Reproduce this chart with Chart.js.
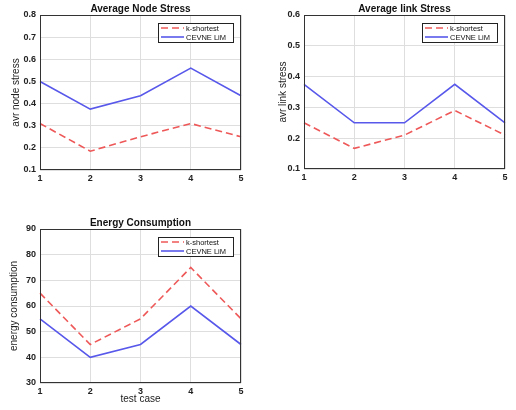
<!DOCTYPE html>
<html>
<head>
<meta charset="utf-8">
<script src="https://cdn.jsdelivr.net/npm/chart.js@4"></script>
<style>
  body { margin: 0; background: #fff; width: 516px; height: 410px; overflow: hidden; position: relative; }
  .box { position: absolute; }
</style>
</head>
<body>
<div class="box" style="left:0px;top:0px;width:250px;height:190px"><canvas id="c1"></canvas></div>
<div class="box" style="left:264px;top:0px;width:250px;height:190px"><canvas id="c2"></canvas></div>
<div class="box" style="left:0px;top:214px;width:250px;height:196px"><canvas id="c3"></canvas></div>
<script>
let testCases = ['1', '2', '3', '4', '5'];

let nodeKShortest = [0.31, 0.185, 0.25, 0.31, 0.25];
let nodeCevne = [0.5, 0.375, 0.435, 0.56, 0.435];

let linkKShortest = [0.25, 0.167, 0.21, 0.29, 0.21];
let linkCevne = [0.375, 0.25, 0.25, 0.375, 0.25];

let energyKShortest = [65, 45, 55, 75, 55];
let energyCevne = [55, 40, 45, 60, 45];

const RED = 'rgb(238,88,88)';
const BLUE = 'rgb(88,88,235)';
const FONT = 'Liberation Sans, Arial, sans-serif';

// matlab-ish frame: box, title above plot, legend inside top right
const frame = {
    id: 'frame',
    afterDraw(chart, args, opts) {
        const c = chart.ctx;
        const a = chart.chartArea;
        c.save();
        c.strokeStyle = '#333';
        c.lineWidth = 1;
        c.strokeRect(Math.round(a.left) + 0.5, Math.round(a.top) + 0.5,
            Math.round(a.right - a.left) - 1, Math.round(a.bottom - a.top) - 1);

        c.fillStyle = '#111';
        c.font = 'bold 10px ' + FONT;
        c.textAlign = 'center';
        c.textBaseline = 'middle';
        c.fillText(opts.title, (a.left + a.right) / 2, a.top - 6);

        // legend
        const w = 75, h = 19;
        const lx = a.right - 8 - w, ly = a.top + 8;
        c.fillStyle = '#fff';
        c.fillRect(lx, ly, w, h);
        c.strokeStyle = '#222';
        c.strokeRect(lx + 0.5, ly + 0.5, w, h);
        c.font = '7.5px ' + FONT;
        c.textAlign = 'left';
        chart.data.datasets.forEach((ds, i) => {
            const y = ly + 5 + i * 9;
            c.strokeStyle = ds.borderColor;
            c.lineWidth = ds.borderWidth;
            c.setLineDash(ds.borderDash || []);
            c.beginPath();
            c.moveTo(lx + 3, y);
            c.lineTo(lx + 26, y);
            c.stroke();
            c.setLineDash([]);
            c.fillStyle = '#111';
            c.fillText(ds.label, lx + 28, y + 0.5);
        });
        c.restore();
    }
};

function makeChart(id, title, yTitle, kData, cData, yMin, yMax, yStep, opts) {
    return new Chart(document.getElementById(id).getContext('2d'), {
        type: 'line',
        data: {
            labels: testCases,
            datasets: [{
                label: 'k-shortest',
                data: kData,
                borderColor: RED,
                borderWidth: 1.6,
                borderDash: [7, 4],
                pointRadius: 0,
                fill: false,
                tension: 0
            }, {
                label: 'CEVNE LiM',
                data: cData,
                borderColor: BLUE,
                borderWidth: 1.6,
                pointRadius: 0,
                fill: false,
                tension: 0
            }]
        },
        options: {
            responsive: true,
            maintainAspectRatio: false,
            animation: false,
            layout: { padding: { top: 15, right: 9, left: 0, bottom: 0 } },
            plugins: {
                legend: { display: false },
                tooltip: { enabled: false },
                frame: { title: title }
            },
            scales: {
                x: {
                    offset: false,
                    grid: { color: '#dedede', drawTicks: false },
                    border: { display: false },
                    ticks: { color: '#222', padding: 3, maxRotation: 0, font: { family: FONT, size: 9, weight: 'bold' } },
                    title: {
                        display: !!opts.xTitle,
                        text: opts.xTitle || '',
                        color: '#222',
                        font: { family: FONT, size: 10 },
                        padding: { top: 0, bottom: 5 }
                    },
                    afterFit: s => { s.height = opts.xHeight; }
                },
                y: {
                    min: yMin,
                    max: yMax,
                    grid: { color: '#dedede', drawTicks: false },
                    border: { display: false },
                    ticks: {
                        stepSize: yStep,
                        color: '#222',
                        padding: 4,
                        font: { family: FONT, size: 9, weight: 'bold' },
                        callback: v => yStep < 1 ? v.toFixed(1) : v
                    },
                    title: {
                        display: true,
                        text: yTitle,
                        color: '#222',
                        font: { family: FONT, size: 10 },
                        padding: { top: opts.yTitlePad, bottom: 0 }
                    },
                    afterFit: s => { s.width = 40; }
                }
            }
        },
        plugins: [frame]
    });
}

makeChart('c1', 'Average Node Stress', 'avr node stress', nodeKShortest, nodeCevne, 0.1, 0.8, 0.1,
    { xHeight: 20, yTitlePad: 10 });
makeChart('c2', 'Average link Stress', 'avr link stress', linkKShortest, linkCevne, 0.1, 0.6, 0.1,
    { xHeight: 21, yTitlePad: 13 });
makeChart('c3', 'Energy Consumption', 'energy consumption', energyKShortest, energyCevne, 30, 90, 10,
    { xHeight: 27, yTitlePad: 8, xTitle: 'test case' });
</script>
</body>
</html>
